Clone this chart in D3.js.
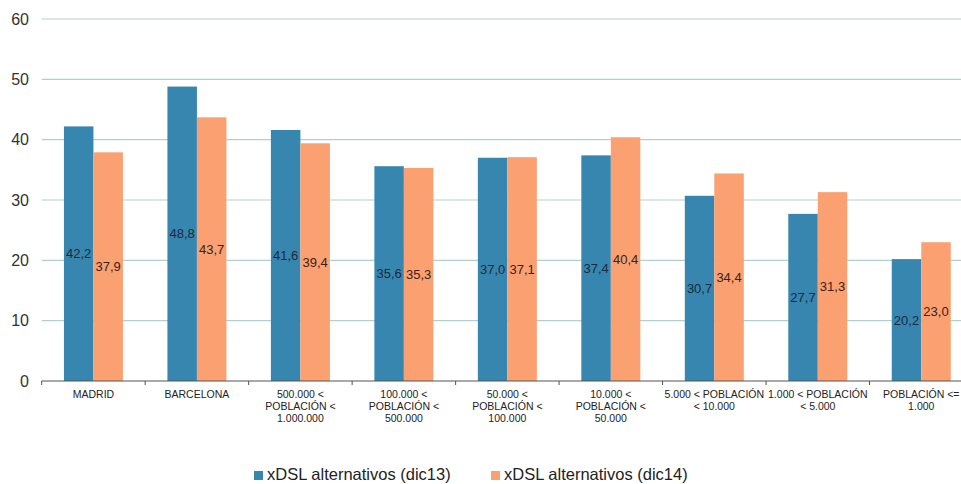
<!DOCTYPE html>
<html>
<head>
<meta charset="utf-8">
<script src="https://cdn.jsdelivr.net/npm/d3@7"></script>
<style>
  body { margin: 0; background: #fff; }
  svg { display: block; font-family: "Liberation Sans", Arial, sans-serif; }
</style>
</head>
<body>
<div id="chart"></div>
<script>
// categories (line breaks as in the original axis labels)
var categories = [
  "MADRID",
  "BARCELONA",
  "500.000 <\nPOBLACIÓN <\n1.000.000",
  "100.000 <\nPOBLACIÓN <\n500.000",
  "50.000 <\nPOBLACIÓN <\n100.000",
  "10.000 <\nPOBLACIÓN <\n50.000",
  "5.000 < POBLACIÓN\n< 10.000",
  "1.000 < POBLACIÓN\n< 5.000",
  "POBLACIÓN <=\n1.000"
];
var seriesNames = ["xDSL alternativos (dic13)", "xDSL alternativos (dic14)"];
var dic13 = [42.2, 48.8, 41.6, 35.6, 37.0, 37.4, 30.7, 27.7, 20.2];
var dic14 = [37.9, 43.7, 39.4, 35.3, 37.1, 40.4, 34.4, 31.3, 23.0];
var yTicks = [0, 10, 20, 30, 40, 50, 60];

var colors = ["#3686b0", "#fba070"];
var labelColors = ["#1c2a3a", "#3a2216"];

var W = 961, H = 484;
// plot box (window.top is read-only, so use a margin object)
var plot = { x0: 41.7, x1: 973, y0: 19, y1: 381 };

var svg = d3.select("#chart").append("svg")
  .attr("width", W).attr("height", H);

var x = d3.scaleBand().domain(d3.range(categories.length)).range([plot.x0, plot.x1]);
var xs = d3.scaleBand().domain([0, 1]).range([0, x.bandwidth()]).paddingOuter(0.754);
var y = d3.scaleLinear().domain([0, 60]).range([plot.y1, plot.y0]);

// gridlines
svg.append("g").selectAll("line")
  .data(yTicks.filter(function(d){ return d > 0; }))
  .enter().append("line")
  .attr("x1", plot.x0).attr("x2", W)
  .attr("y1", function(d){ return y(d); })
  .attr("y2", function(d){ return y(d); })
  .attr("stroke", "#b3d0d0").attr("stroke-width", 1.2);

// y tick labels
svg.append("g").selectAll("text")
  .data(yTicks)
  .enter().append("text")
  .attr("x", 29).attr("y", function(d){ return y(d); })
  .attr("dy", "0.36em")
  .attr("text-anchor", "end")
  .attr("font-size", 16)
  .attr("fill", "#333")
  .text(function(d){ return d; });

// bars
var data = categories.map(function(c, i){ return [dic13[i], dic14[i]]; });
var groups = svg.append("g").selectAll("g")
  .data(data).enter().append("g")
  .attr("transform", function(d, i){ return "translate(" + x(i) + ",0)"; });

groups.selectAll("rect")
  .data(function(d){ return d; })
  .enter().append("rect")
  .attr("x", function(d, j){ return xs(j); })
  .attr("width", xs.bandwidth())
  .attr("y", function(d){ return y(d); })
  .attr("height", function(d){ return y(0) - y(d); })
  .attr("fill", function(d, j){ return colors[j]; });

var fmt = d3.format(".1f");
groups.selectAll("text")
  .data(function(d){ return d; })
  .enter().append("text")
  .attr("x", function(d, j){ return xs(j) + xs.bandwidth() / 2; })
  .attr("y", function(d){ return (y(d) + y(0)) / 2; })
  .attr("dy", "0.36em")
  .attr("text-anchor", "middle")
  .attr("font-size", 13)
  .attr("fill", function(d, j){ return labelColors[j]; })
  .text(function(d){ return fmt(d).replace(".", ","); });

// x axis line and ticks
svg.append("line")
  .attr("x1", plot.x0).attr("x2", W)
  .attr("y1", plot.y1).attr("y2", plot.y1)
  .attr("stroke", "#555").attr("stroke-width", 1.2);

svg.append("g").selectAll("line")
  .data(d3.range(categories.length + 1))
  .enter().append("line")
  .attr("x1", function(i){ return plot.x0 + i * x.step(); })
  .attr("x2", function(i){ return plot.x0 + i * x.step(); })
  .attr("y1", plot.y1).attr("y2", plot.y1 + 4)
  .attr("stroke", "#555");

// category labels
var catText = svg.append("g").selectAll("text")
  .data(categories)
  .enter().append("text")
  .attr("text-anchor", "middle")
  .attr("font-size", 10.5)
  .attr("fill", "#222")
  .attr("transform", function(d, i){
    return "translate(" + (x(i) + x.bandwidth() / 2) + "," + 398 + ")";
  });
catText.selectAll("tspan")
  .data(function(d){ return d.split("\n"); })
  .enter().append("tspan")
  .attr("x", 0)
  .attr("y", function(d, k){ return k * 12; })
  .text(function(d){ return d; });

// legend
var legendX = [254, 491];
var legend = svg.append("g").selectAll("g")
  .data(seriesNames).enter().append("g")
  .attr("transform", function(d, i){ return "translate(" + legendX[i] + ",471)"; });
legend.append("rect")
  .attr("width", 9).attr("height", 9)
  .attr("fill", function(d, i){ return colors[i]; });
legend.append("text")
  .attr("x", 13).attr("y", 9)
  .attr("font-size", 16.5)
  .attr("fill", "#222")
  .text(function(d){ return d; });
</script>
</body>
</html>
